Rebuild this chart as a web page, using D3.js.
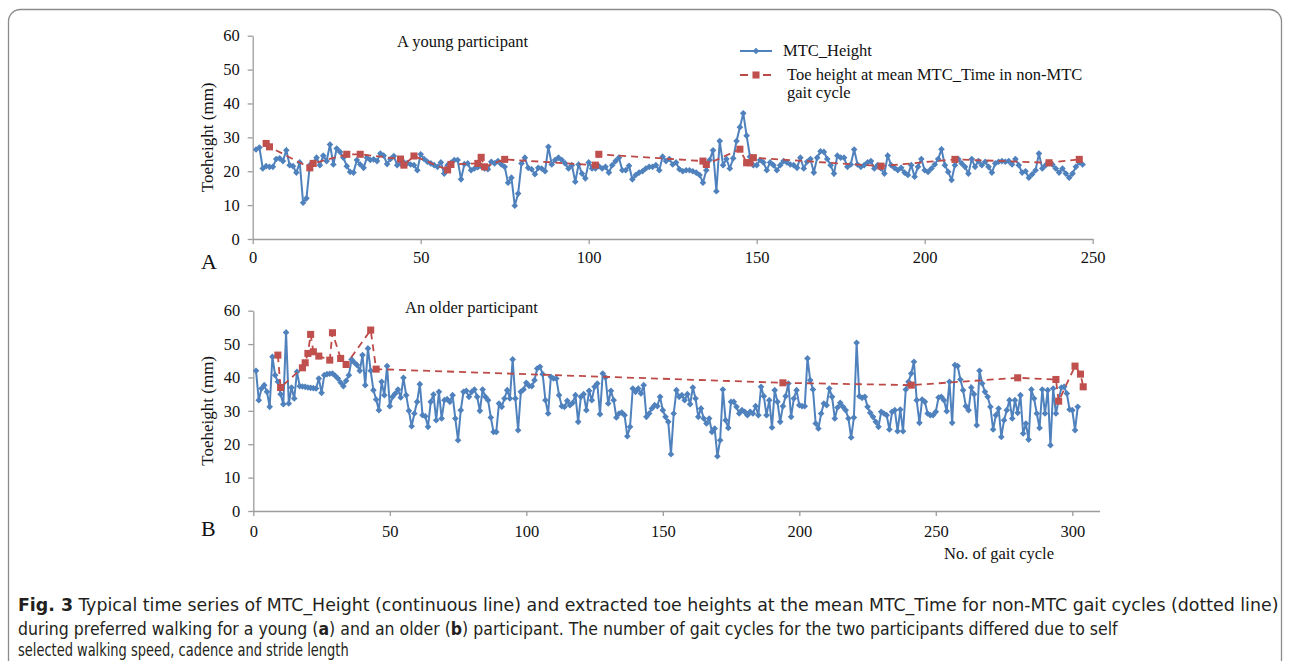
<!DOCTYPE html>
<html>
<head>
<meta charset="utf-8">
<script src="https://cdn.jsdelivr.net/npm/d3@7"></script>
<style>
body { margin: 0; background: #fff; }
.axis text { font-family: "Liberation Serif", "Times New Roman", serif; font-size: 16.5px; fill: #111; }
.axis path, .axis line { stroke: #9c9c9c; stroke-width: 1.3; }
.lbl { font-family: "Liberation Serif", "Times New Roman", serif; font-size: 16.5px; fill: #111; }
.cap { font-family: "Liberation Sans Narrow", "DejaVu Sans Condensed", "Noto Sans", sans-serif; font-size: 18px; fill: #231f20; }
</style>
</head>
<body>
<svg id="fig" width="1290" height="661"></svg>
<script>
/*   DATA   */

// panel A - young participant, MTC_Height per gait cycle (1..247)
const mtcHeightA = [
  26.4, 27.0, 20.8, 21.5, 21.3, 21.3, 23.6, 23.8, 23.0, 26.2,
  21.8, 21.5, 19.6, 22.6, 10.7, 12.0, 21.8, 22.5, 24.0, 21.8,
  24.6, 23.0, 27.9, 22.0, 26.7, 25.7, 24.0, 21.5, 19.8, 19.6,
  23.3, 22.0, 21.0, 24.0, 23.3, 23.5, 23.0, 25.2, 24.6, 22.1,
  23.6, 24.5, 21.8, 22.3, 22.6, 22.4, 22.0, 21.8, 20.3, 25.0,
  23.6, 22.8, 22.3, 21.8, 21.3, 22.6, 19.3, 21.8, 22.5, 23.3,
  23.3, 17.6, 22.1, 22.3, 20.3, 20.8, 21.2, 21.5, 20.8, 20.6,
  22.8, 22.3, 23.0, 22.0, 21.3, 16.6, 18.1, 9.8, 13.4, 22.3,
  24.0, 21.0, 20.6, 19.1, 21.0, 20.8, 20.0, 27.2, 22.0, 23.3,
  24.0, 23.3, 22.3, 20.8, 21.8, 16.9, 22.0, 19.3, 17.9, 22.6,
  20.8, 20.8, 21.5, 20.8, 21.3, 19.6, 21.8, 23.0, 24.0, 20.3,
  20.3, 21.6, 17.6, 18.9, 19.6, 20.0, 20.8, 21.3, 21.3, 21.8,
  20.3, 24.3, 23.0, 23.6, 22.0, 22.6, 20.6, 20.0, 20.3, 20.3,
  20.0, 19.6, 18.9, 16.6, 20.3, 23.3, 26.2, 14.1, 28.9, 21.8,
  23.6, 20.8, 23.8, 28.9, 33.0, 37.1, 30.5, 24.3, 21.8, 21.8,
  23.3, 22.6, 20.3, 22.6, 21.8, 20.3, 21.8, 23.0, 22.6, 22.0,
  21.8, 21.0, 24.0, 20.8, 22.8, 23.6, 19.6, 24.0, 25.9, 25.7,
  23.6, 21.8, 19.3, 24.6, 24.0, 24.0, 21.3, 22.0, 26.4, 22.0,
  21.3, 21.8, 22.6, 23.0, 20.8, 21.8, 20.8, 19.3, 24.6, 21.8,
  21.0, 20.3, 21.0, 19.6, 18.9, 21.8, 18.4, 21.3, 23.6, 20.3,
  19.8, 20.8, 22.0, 23.6, 26.5, 21.8, 19.8, 17.4, 21.8, 23.6,
  22.3, 21.3, 19.3, 23.6, 21.3, 23.0, 21.8, 22.8, 21.3, 19.6,
  22.3, 22.8, 23.0, 22.8, 23.0, 22.0, 23.6, 21.8, 19.6, 20.0,
  18.1, 19.1, 20.3, 25.2, 20.8, 21.8, 22.3, 22.0, 20.8, 19.6,
  20.8, 19.3, 18.1, 19.3, 21.3, 22.6, 22.0
];
// panel A - toe height at mean MTC_Time in non-MTC gait cycles
const toeCycleA = [4, 5, 17, 18, 28, 32, 44, 45, 48, 58, 59, 67, 68, 69, 75, 102, 103, 134, 135, 145, 147, 148, 149, 187, 209, 237, 246];
const toeHeightA = [28.2, 27.2, 21.0, 22.3, 25.0, 25.0, 23.6, 21.8, 24.5, 20.4, 22.0, 22.3, 24.1, 21.3, 23.5, 21.8, 25.0, 23.0, 22.0, 26.5, 22.5, 22.5, 24.0, 21.5, 23.5, 22.5, 23.5];

// panel B - older participant, MTC_Height per gait cycle (1..302)
const mtcHeightB = [
  42.0, 33.2, 36.7, 37.7, 35.7, 31.2, 46.2, 40.7, 38.7, 35.0,
  32.0, 53.5, 32.2, 37.0, 33.7, 41.7, 37.4, 37.3, 37.2, 37.0,
  36.9, 36.8, 36.7, 39.7, 35.4, 40.7, 41.0, 41.1, 41.2, 40.5,
  39.7, 38.5, 37.4, 39.0, 40.7, 45.4, 44.5, 43.7, 42.0, 46.7,
  37.7, 48.7, 42.0, 36.2, 33.4, 30.2, 38.7, 34.7, 43.4, 31.4,
  34.2, 35.2, 36.4, 34.0, 39.9, 34.7, 30.0, 25.4, 29.2, 32.7,
  38.0, 28.7, 28.4, 25.2, 32.7, 34.9, 27.2, 35.7, 27.7, 33.2,
  33.5, 32.7, 34.7, 27.7, 21.2, 30.2, 35.7, 36.0, 34.2, 35.7,
  36.4, 34.2, 30.0, 36.4, 34.2, 33.2, 28.0, 23.7, 23.7, 32.2,
  31.2, 33.7, 36.2, 33.7, 45.4, 33.7, 24.2, 35.7, 36.4, 38.4,
  37.5, 37.4, 39.2, 42.7, 43.2, 41.0, 33.2, 29.2, 40.2, 39.7,
  39.7, 34.7, 31.4, 31.2, 33.0, 31.7, 32.4, 34.7, 26.7, 34.2,
  35.0, 30.2, 36.0, 33.2, 37.2, 38.2, 29.0, 41.2, 40.0, 32.2,
  36.0, 33.2, 28.0, 29.2, 29.5, 28.7, 22.4, 25.2, 36.7, 35.7,
  36.7, 35.2, 37.7, 28.2, 29.2, 30.7, 31.7, 31.4, 34.2, 30.2,
  28.2, 26.7, 17.0, 29.2, 36.2, 34.2, 34.7, 33.2, 35.0, 32.0,
  37.0, 33.7, 28.2, 30.7, 27.7, 26.2, 27.7, 23.7, 24.7, 16.4,
  21.2, 36.4, 27.2, 24.9, 32.7, 32.7, 31.2, 29.2, 30.2, 29.7,
  28.7, 29.7, 29.2, 31.4, 28.7, 37.2, 34.4, 28.7, 33.2, 25.0,
  36.2, 32.7, 26.7, 31.4, 34.4, 38.2, 28.2, 33.7, 36.2, 31.7,
  31.4, 31.4, 45.7, 39.2, 36.4, 26.2, 24.7, 29.2, 32.2, 31.7,
  36.7, 34.2, 27.7, 31.0, 32.4, 31.2, 30.2, 27.7, 22.0, 28.0,
  50.4, 34.4, 33.9, 34.2, 31.2, 29.4, 28.2, 26.7, 25.2, 29.7,
  29.2, 28.7, 24.4, 29.7, 30.2, 23.9, 30.4, 23.9, 36.4, 38.7,
  41.2, 44.7, 33.2, 26.4, 33.4, 32.7, 29.2, 28.7, 28.7, 29.7,
  34.0, 34.2, 33.2, 29.9, 38.7, 26.4, 43.7, 43.4, 39.4, 36.2,
  31.4, 30.2, 37.0, 35.0, 25.7, 42.0, 38.2, 35.7, 34.2, 31.2,
  24.4, 28.7, 30.7, 22.2, 27.2, 30.2, 33.2, 27.7, 33.2, 29.4,
  34.7, 23.2, 26.2, 21.4, 36.4, 33.7, 29.2, 24.9, 36.4, 29.2,
  36.2, 19.7, 36.7, 29.2, 33.2, 37.0, 37.2, 35.2, 30.4, 30.2,
  24.2, 31.2
];
// panel B - toe height at mean MTC_Time in non-MTC gait cycles
const toeCycleB = [9, 10, 18, 19, 20, 21, 22, 24, 28, 29, 32, 34, 43, 45, 194, 241, 280, 294, 295, 301, 303, 304];
const toeHeightB = [46.7, 37.0, 42.9, 44.4, 47.2, 52.9, 47.7, 46.4, 45.2, 53.4, 45.7, 43.9, 54.2, 42.5, 38.4, 37.7, 39.9, 39.4, 32.9, 43.4, 41.0, 37.2];

const yTicks = [0, 10, 20, 30, 40, 50, 60];
const xTicksA = [0, 50, 100, 150, 200, 250];
const xTicksB = [0, 50, 100, 150, 200, 250, 300];

// caption lines, split where the bold parts are
const captionLines = [
    [{ text: "Fig. 3", bold: true },
     { text: " Typical time series of MTC_Height (continuous line) and extracted toe heights at the mean MTC_Time for non-MTC gait cycles (dotted line)" }],
    [{ text: "during preferred walking for a young (" }, { text: "a", bold: true },
     { text: ") and an older (" }, { text: "b", bold: true },
     { text: ") participant. The number of gait cycles for the two participants differed due to self" }],
    [{ text: "selected walking speed, cadence and stride length" }]
];

const blue = "#4f81bd";
const red = "#c0504d";

const svg = d3.select("#fig");

// figure frame
svg.append("rect")
    .attr("x", 8.5).attr("y", 9.5)
    .attr("width", 1273).attr("height", 720)
    .attr("rx", 12)
    .attr("fill", "none")
    .attr("stroke", "#8c8c8c")
    .attr("stroke-width", 1.3);

const drawPanel = (cfg) => {
    const x = d3.scaleLinear().domain([0, cfg.xMax]).range([cfg.left, cfg.right]);
    const y = d3.scaleLinear().domain([0, 60]).range([cfg.bottom, cfg.top]);

    svg.append("g")
        .attr("class", "axis")
        .attr("transform", `translate(0,${cfg.bottom})`)
        .call(d3.axisBottom(x).tickValues(cfg.xTicks).tickSize(5).tickSizeOuter(0).tickPadding(cfg.xPad));
    svg.append("g")
        .attr("class", "axis")
        .attr("transform", `translate(${cfg.left},0)`)
        .call(d3.axisLeft(y).tickValues(yTicks).tickSize(5).tickSizeOuter(0).tickPadding(8));

    const line = d3.line().x(d => x(d[0])).y(d => y(d[1]));

    // MTC_Height (continuous)
    const pts = cfg.mtc.map((v, i) => [i + 1, v]);
    svg.append("path")
        .datum(pts)
        .attr("d", line)
        .attr("fill", "none")
        .attr("stroke", blue)
        .attr("stroke-width", 2);
    svg.append("g").selectAll("path")
        .data(pts)
        .enter()
        .append("path")
        .attr("d", d3.symbol(d3.symbolSquare, 22))
        .attr("transform", d => `translate(${x(d[0])},${y(d[1])}) rotate(45)`)
        .attr("fill", blue);

    // toe height at mean MTC_Time (dashed)
    const toe = cfg.toeX.map((c, i) => [c, cfg.toeY[i]]);
    svg.append("path")
        .datum(toe)
        .attr("d", line)
        .attr("fill", "none")
        .attr("stroke", "#bd4a47")
        .attr("stroke-width", 1.8)
        .attr("stroke-dasharray", "7,5");
    svg.append("g").selectAll("path")
        .data(toe)
        .enter()
        .append("path")
        .attr("d", d3.symbol(d3.symbolSquare, 50))
        .attr("transform", d => `translate(${x(d[0])},${y(d[1])})`)
        .attr("fill", red);

    // y title
    svg.append("text")
        .attr("class", "lbl")
        .attr("transform", `translate(${cfg.left - 40},${(cfg.top + cfg.bottom) / 2}) rotate(-90)`)
        .attr("text-anchor", "middle")
        .style("font-size", "17px")
        .text("Toeheight (mm)");

    svg.append("text")
        .attr("class", "lbl")
        .attr("x", cfg.titleX).attr("y", cfg.titleY)
        .text(cfg.title);

    svg.append("text")
        .attr("class", "lbl")
        .attr("x", 201).attr("y", cfg.letterY)
        .style("font-size", "22px")
        .text(cfg.letter);
};

drawPanel({
    mtc: mtcHeightA, toeX: toeCycleA, toeY: toeHeightA,
    xMax: 250, xTicks: xTicksA, xPad: 7,
    left: 252.7, right: 1092.7, top: 35.7, bottom: 239,
    title: "A young participant", titleX: 397, titleY: 47,
    letter: "A", letterY: 269
});

drawPanel({
    mtc: mtcHeightB, toeX: toeCycleB, toeY: toeHeightB,
    xMax: 310, xTicks: xTicksB, xPad: 9,
    left: 253.3, right: 1099.6, top: 310.7, bottom: 511,
    title: "An older participant", titleX: 405, titleY: 313,
    letter: "B", letterY: 536
});

// legend (panel A)
svg.append("line")
    .attr("x1", 740).attr("x2", 772).attr("y1", 51).attr("y2", 51)
    .attr("stroke", blue).attr("stroke-width", 2);
svg.append("path")
    .attr("d", d3.symbol(d3.symbolSquare, 22))
    .attr("transform", "translate(756,51) rotate(45)")
    .attr("fill", blue);
svg.append("text").attr("class", "lbl").attr("x", 783).attr("y", 56).text("MTC_Height");

svg.append("line")
    .attr("x1", 740).attr("x2", 772).attr("y1", 75).attr("y2", 75)
    .attr("stroke", "#bd4a47").attr("stroke-width", 1.8)
    .attr("stroke-dasharray", "8,15");
svg.append("path")
    .attr("d", d3.symbol(d3.symbolSquare, 50))
    .attr("transform", "translate(756,75)")
    .attr("fill", red);
svg.append("text").attr("class", "lbl").attr("x", 787).attr("y", 80).text("Toe height at mean MTC_Time in non-MTC");
svg.append("text").attr("class", "lbl").attr("x", 787).attr("y", 98).text("gait cycle");

svg.append("text")
    .attr("class", "lbl")
    .attr("x", 999).attr("y", 559)
    .attr("text-anchor", "middle")
    .text("No. of gait cycle");

// caption: each line squeezed horizontally to the width it has in the figure
const capY = [611, 635, 656];
const capW = [1262, 1100, 331];
captionLines.forEach((parts, i) => {
    const t = svg.append("text").attr("class", "cap");
    parts.forEach(p => t.append("tspan")
        .style("font-weight", p.bold ? "bold" : null)
        .text(p.text));
    const len = t.node().getComputedTextLength();
    t.attr("transform", `translate(18,${capY[i]}) scale(${capW[i] / len},1)`);
});
</script>
</body>
</html>
